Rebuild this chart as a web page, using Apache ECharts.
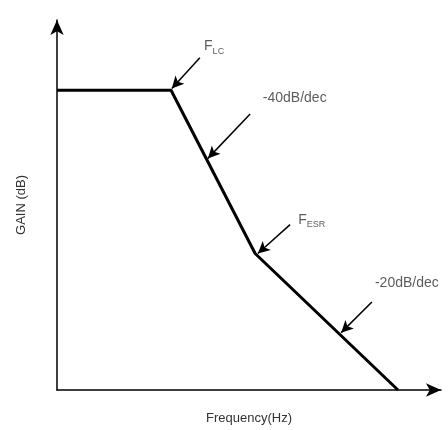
<!DOCTYPE html>
<html>
<head>
<meta charset="utf-8">
<script src="https://cdn.jsdelivr.net/npm/echarts@6/dist/echarts.min.js"></script>
<style>
  html, body { margin: 0; padding: 0; background: #fff; }
  #main { width: 448px; height: 430px; }
</style>
</head>
<body>
<div id="main"></div>
<script>
// gain curve corners (x = relative frequency, y = relative gain)
const curveX = [0, 29.7, 51.6, 88.8];
const curveY = [81.0, 81.0, 36.9, 0];

// annotation arrows: from [x, y] to [x, y]
const arrowFrom = [[37.2, 89.8], [50.3, 74.6], [60.7, 44.7], [82.0, 23.8]];
const arrowTo   = [[29.9, 81.5], [39.3, 62.6], [52.3, 36.9], [74.0, 15.5]];

// annotation text and where it starts
const noteText = ['{m|F}{s|LC}', '{m|-40dB/dec}', '{m|F}{s|ESR}', '{m|-20dB/dec}'];
const noteX = [38.3, 53.6, 62.8, 82.8];
const noteY = [92.8, 78.9, 46.0, 28.9];

const xName = 'Frequency(Hz)';
const yName = 'GAIN (dB)';

const chart = echarts.init(document.getElementById('main'));
const font = 'Liberation Sans, Arial, sans-serif';
const axisBase = {
    type: 'value', min: 0, max: 100,
    axisTick: { show: false }, axisLabel: { show: false }, splitLine: { show: false },
    axisLine: { show: true, symbol: ['none', 'arrow'], symbolSize: [10, 15],
        lineStyle: { color: '#000', width: 1.5 } },
    nameLocation: 'middle',
    nameTextStyle: { color: '#333', fontSize: 13, fontFamily: font }
};

chart.setOption({
    animation: false,
    grid: { left: 57, right: 7, top: 20, bottom: 36 },
    xAxis: { ...axisBase, name: xName, nameGap: 22 },
    yAxis: { ...axisBase, name: yName, nameGap: 29 },
    series: [
        {
            type: 'line', symbol: 'none',
            data: curveX.map((x, i) => [x, curveY[i]]),
            lineStyle: { color: '#000', width: 3 },
            markLine: {
                silent: true, symbol: ['none', 'arrow'], symbolSize: [9, 12],
                label: { show: false },
                lineStyle: { color: '#000', width: 1.5, type: 'solid' },
                data: arrowFrom.map((f, i) => [{ coord: f }, { coord: arrowTo[i] }])
            }
        },
        {
            type: 'scatter', symbolSize: 0,
            data: noteX.map((x, i) => [x, noteY[i]]),
            label: {
                show: true, position: 'right', distance: 0,
                formatter: p => noteText[p.dataIndex],
                rich: {
                    m: { color: '#333', fontSize: 14, fontFamily: font },
                    s: { color: '#333', fontSize: 9, fontFamily: font, padding: [9, 0, 0, 0] }
                }
            }
        }
    ]
});
</script>
</body>
</html>
